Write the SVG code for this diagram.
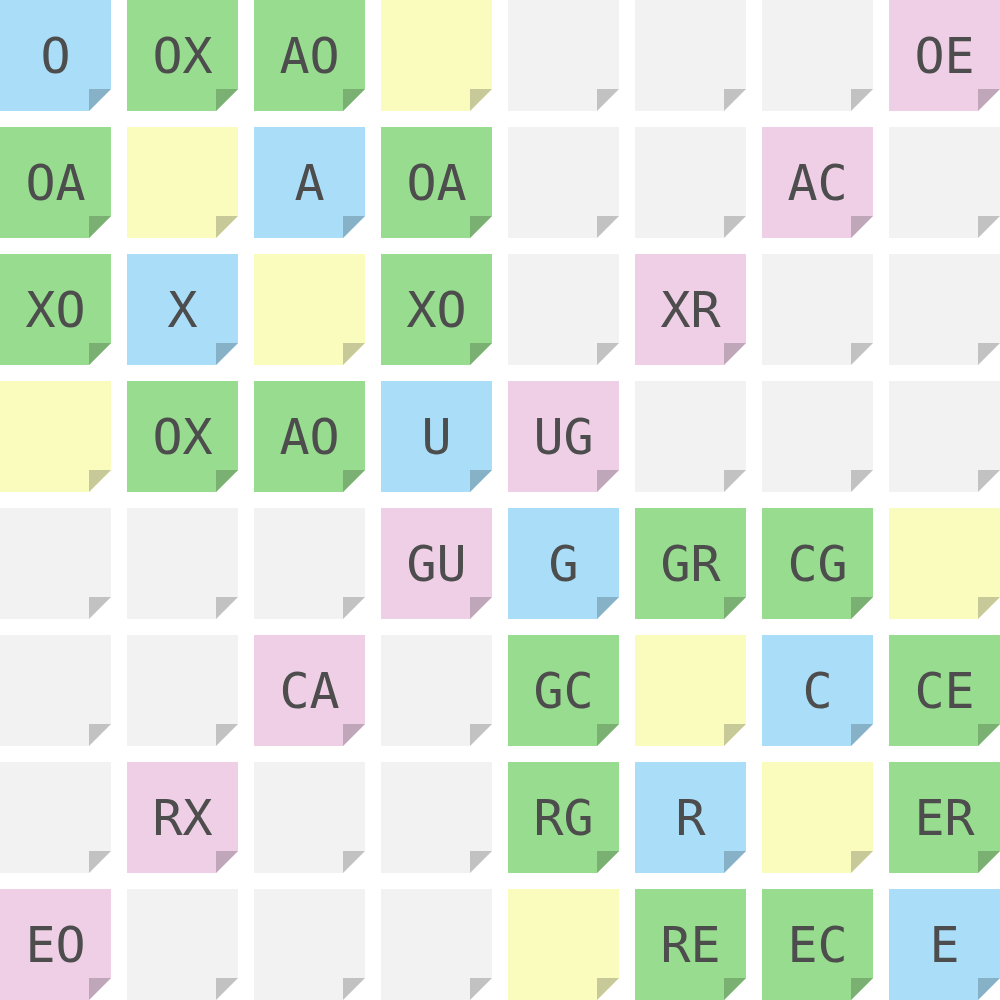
<svg xmlns="http://www.w3.org/2000/svg" width="1000" height="1000" viewBox="0 0 1000 1000">
<style>
.body{}
.b .body{fill:#a9ddf8}.b .fold{fill:#87b1c6}
.g .body{fill:#98dc8f}.g .fold{fill:#7ab072}
.y .body{fill:#fafcbe}.y .fold{fill:#c8c998}
.p .body{fill:#efcfe6}.p .fold{fill:#bfa6b8}
.n .body{fill:#f2f2f2}.n .fold{fill:#c2c2c2}
text{font-family:"DejaVu Sans Mono","Liberation Mono",monospace;font-size:50px;fill:#4d4d4d;text-anchor:middle}
</style>
<rect width="1000" height="1000" fill="#ffffff"/>
<g id="nodes">
<g id="r0c0" class="b" transform="translate(0,0)"><path class="body" d="M0,0H111V89L89,111H0Z"/><path class="fold" d="M89,89H111L89,111Z"/><text x="55.5" y="73">O</text></g>
<g id="r0c1" class="g" transform="translate(127,0)"><path class="body" d="M0,0H111V89L89,111H0Z"/><path class="fold" d="M89,89H111L89,111Z"/><text x="55.5" y="73">OX</text></g>
<g id="r0c2" class="g" transform="translate(254,0)"><path class="body" d="M0,0H111V89L89,111H0Z"/><path class="fold" d="M89,89H111L89,111Z"/><text x="55.5" y="73">AO</text></g>
<g id="r0c3" class="y" transform="translate(381,0)"><path class="body" d="M0,0H111V89L89,111H0Z"/><path class="fold" d="M89,89H111L89,111Z"/></g>
<g id="r0c4" class="n" transform="translate(508,0)"><path class="body" d="M0,0H111V89L89,111H0Z"/><path class="fold" d="M89,89H111L89,111Z"/></g>
<g id="r0c5" class="n" transform="translate(635,0)"><path class="body" d="M0,0H111V89L89,111H0Z"/><path class="fold" d="M89,89H111L89,111Z"/></g>
<g id="r0c6" class="n" transform="translate(762,0)"><path class="body" d="M0,0H111V89L89,111H0Z"/><path class="fold" d="M89,89H111L89,111Z"/></g>
<g id="r0c7" class="p" transform="translate(889,0)"><path class="body" d="M0,0H111V89L89,111H0Z"/><path class="fold" d="M89,89H111L89,111Z"/><text x="55.5" y="73">OE</text></g>

<g id="r1c0" class="g" transform="translate(0,127)"><path class="body" d="M0,0H111V89L89,111H0Z"/><path class="fold" d="M89,89H111L89,111Z"/><text x="55.5" y="73">OA</text></g>
<g id="r1c1" class="y" transform="translate(127,127)"><path class="body" d="M0,0H111V89L89,111H0Z"/><path class="fold" d="M89,89H111L89,111Z"/></g>
<g id="r1c2" class="b" transform="translate(254,127)"><path class="body" d="M0,0H111V89L89,111H0Z"/><path class="fold" d="M89,89H111L89,111Z"/><text x="55.5" y="73">A</text></g>
<g id="r1c3" class="g" transform="translate(381,127)"><path class="body" d="M0,0H111V89L89,111H0Z"/><path class="fold" d="M89,89H111L89,111Z"/><text x="55.5" y="73">OA</text></g>
<g id="r1c4" class="n" transform="translate(508,127)"><path class="body" d="M0,0H111V89L89,111H0Z"/><path class="fold" d="M89,89H111L89,111Z"/></g>
<g id="r1c5" class="n" transform="translate(635,127)"><path class="body" d="M0,0H111V89L89,111H0Z"/><path class="fold" d="M89,89H111L89,111Z"/></g>
<g id="r1c6" class="p" transform="translate(762,127)"><path class="body" d="M0,0H111V89L89,111H0Z"/><path class="fold" d="M89,89H111L89,111Z"/><text x="55.5" y="73">AC</text></g>
<g id="r1c7" class="n" transform="translate(889,127)"><path class="body" d="M0,0H111V89L89,111H0Z"/><path class="fold" d="M89,89H111L89,111Z"/></g>

<g id="r2c0" class="g" transform="translate(0,254)"><path class="body" d="M0,0H111V89L89,111H0Z"/><path class="fold" d="M89,89H111L89,111Z"/><text x="55.5" y="73">XO</text></g>
<g id="r2c1" class="b" transform="translate(127,254)"><path class="body" d="M0,0H111V89L89,111H0Z"/><path class="fold" d="M89,89H111L89,111Z"/><text x="55.5" y="73">X</text></g>
<g id="r2c2" class="y" transform="translate(254,254)"><path class="body" d="M0,0H111V89L89,111H0Z"/><path class="fold" d="M89,89H111L89,111Z"/></g>
<g id="r2c3" class="g" transform="translate(381,254)"><path class="body" d="M0,0H111V89L89,111H0Z"/><path class="fold" d="M89,89H111L89,111Z"/><text x="55.5" y="73">XO</text></g>
<g id="r2c4" class="n" transform="translate(508,254)"><path class="body" d="M0,0H111V89L89,111H0Z"/><path class="fold" d="M89,89H111L89,111Z"/></g>
<g id="r2c5" class="p" transform="translate(635,254)"><path class="body" d="M0,0H111V89L89,111H0Z"/><path class="fold" d="M89,89H111L89,111Z"/><text x="55.5" y="73">XR</text></g>
<g id="r2c6" class="n" transform="translate(762,254)"><path class="body" d="M0,0H111V89L89,111H0Z"/><path class="fold" d="M89,89H111L89,111Z"/></g>
<g id="r2c7" class="n" transform="translate(889,254)"><path class="body" d="M0,0H111V89L89,111H0Z"/><path class="fold" d="M89,89H111L89,111Z"/></g>

<g id="r3c0" class="y" transform="translate(0,381)"><path class="body" d="M0,0H111V89L89,111H0Z"/><path class="fold" d="M89,89H111L89,111Z"/></g>
<g id="r3c1" class="g" transform="translate(127,381)"><path class="body" d="M0,0H111V89L89,111H0Z"/><path class="fold" d="M89,89H111L89,111Z"/><text x="55.5" y="73">OX</text></g>
<g id="r3c2" class="g" transform="translate(254,381)"><path class="body" d="M0,0H111V89L89,111H0Z"/><path class="fold" d="M89,89H111L89,111Z"/><text x="55.5" y="73">AO</text></g>
<g id="r3c3" class="b" transform="translate(381,381)"><path class="body" d="M0,0H111V89L89,111H0Z"/><path class="fold" d="M89,89H111L89,111Z"/><text x="55.5" y="73">U</text></g>
<g id="r3c4" class="p" transform="translate(508,381)"><path class="body" d="M0,0H111V89L89,111H0Z"/><path class="fold" d="M89,89H111L89,111Z"/><text x="55.5" y="73">UG</text></g>
<g id="r3c5" class="n" transform="translate(635,381)"><path class="body" d="M0,0H111V89L89,111H0Z"/><path class="fold" d="M89,89H111L89,111Z"/></g>
<g id="r3c6" class="n" transform="translate(762,381)"><path class="body" d="M0,0H111V89L89,111H0Z"/><path class="fold" d="M89,89H111L89,111Z"/></g>
<g id="r3c7" class="n" transform="translate(889,381)"><path class="body" d="M0,0H111V89L89,111H0Z"/><path class="fold" d="M89,89H111L89,111Z"/></g>

<g id="r4c0" class="n" transform="translate(0,508)"><path class="body" d="M0,0H111V89L89,111H0Z"/><path class="fold" d="M89,89H111L89,111Z"/></g>
<g id="r4c1" class="n" transform="translate(127,508)"><path class="body" d="M0,0H111V89L89,111H0Z"/><path class="fold" d="M89,89H111L89,111Z"/></g>
<g id="r4c2" class="n" transform="translate(254,508)"><path class="body" d="M0,0H111V89L89,111H0Z"/><path class="fold" d="M89,89H111L89,111Z"/></g>
<g id="r4c3" class="p" transform="translate(381,508)"><path class="body" d="M0,0H111V89L89,111H0Z"/><path class="fold" d="M89,89H111L89,111Z"/><text x="55.5" y="73">GU</text></g>
<g id="r4c4" class="b" transform="translate(508,508)"><path class="body" d="M0,0H111V89L89,111H0Z"/><path class="fold" d="M89,89H111L89,111Z"/><text x="55.5" y="73">G</text></g>
<g id="r4c5" class="g" transform="translate(635,508)"><path class="body" d="M0,0H111V89L89,111H0Z"/><path class="fold" d="M89,89H111L89,111Z"/><text x="55.5" y="73">GR</text></g>
<g id="r4c6" class="g" transform="translate(762,508)"><path class="body" d="M0,0H111V89L89,111H0Z"/><path class="fold" d="M89,89H111L89,111Z"/><text x="55.5" y="73">CG</text></g>
<g id="r4c7" class="y" transform="translate(889,508)"><path class="body" d="M0,0H111V89L89,111H0Z"/><path class="fold" d="M89,89H111L89,111Z"/></g>

<g id="r5c0" class="n" transform="translate(0,635)"><path class="body" d="M0,0H111V89L89,111H0Z"/><path class="fold" d="M89,89H111L89,111Z"/></g>
<g id="r5c1" class="n" transform="translate(127,635)"><path class="body" d="M0,0H111V89L89,111H0Z"/><path class="fold" d="M89,89H111L89,111Z"/></g>
<g id="r5c2" class="p" transform="translate(254,635)"><path class="body" d="M0,0H111V89L89,111H0Z"/><path class="fold" d="M89,89H111L89,111Z"/><text x="55.5" y="73">CA</text></g>
<g id="r5c3" class="n" transform="translate(381,635)"><path class="body" d="M0,0H111V89L89,111H0Z"/><path class="fold" d="M89,89H111L89,111Z"/></g>
<g id="r5c4" class="g" transform="translate(508,635)"><path class="body" d="M0,0H111V89L89,111H0Z"/><path class="fold" d="M89,89H111L89,111Z"/><text x="55.5" y="73">GC</text></g>
<g id="r5c5" class="y" transform="translate(635,635)"><path class="body" d="M0,0H111V89L89,111H0Z"/><path class="fold" d="M89,89H111L89,111Z"/></g>
<g id="r5c6" class="b" transform="translate(762,635)"><path class="body" d="M0,0H111V89L89,111H0Z"/><path class="fold" d="M89,89H111L89,111Z"/><text x="55.5" y="73">C</text></g>
<g id="r5c7" class="g" transform="translate(889,635)"><path class="body" d="M0,0H111V89L89,111H0Z"/><path class="fold" d="M89,89H111L89,111Z"/><text x="55.5" y="73">CE</text></g>

<g id="r6c0" class="n" transform="translate(0,762)"><path class="body" d="M0,0H111V89L89,111H0Z"/><path class="fold" d="M89,89H111L89,111Z"/></g>
<g id="r6c1" class="p" transform="translate(127,762)"><path class="body" d="M0,0H111V89L89,111H0Z"/><path class="fold" d="M89,89H111L89,111Z"/><text x="55.5" y="73">RX</text></g>
<g id="r6c2" class="n" transform="translate(254,762)"><path class="body" d="M0,0H111V89L89,111H0Z"/><path class="fold" d="M89,89H111L89,111Z"/></g>
<g id="r6c3" class="n" transform="translate(381,762)"><path class="body" d="M0,0H111V89L89,111H0Z"/><path class="fold" d="M89,89H111L89,111Z"/></g>
<g id="r6c4" class="g" transform="translate(508,762)"><path class="body" d="M0,0H111V89L89,111H0Z"/><path class="fold" d="M89,89H111L89,111Z"/><text x="55.5" y="73">RG</text></g>
<g id="r6c5" class="b" transform="translate(635,762)"><path class="body" d="M0,0H111V89L89,111H0Z"/><path class="fold" d="M89,89H111L89,111Z"/><text x="55.5" y="73">R</text></g>
<g id="r6c6" class="y" transform="translate(762,762)"><path class="body" d="M0,0H111V89L89,111H0Z"/><path class="fold" d="M89,89H111L89,111Z"/></g>
<g id="r6c7" class="g" transform="translate(889,762)"><path class="body" d="M0,0H111V89L89,111H0Z"/><path class="fold" d="M89,89H111L89,111Z"/><text x="55.5" y="73">ER</text></g>

<g id="r7c0" class="p" transform="translate(0,889)"><path class="body" d="M0,0H111V89L89,111H0Z"/><path class="fold" d="M89,89H111L89,111Z"/><text x="55.5" y="73">EO</text></g>
<g id="r7c1" class="n" transform="translate(127,889)"><path class="body" d="M0,0H111V89L89,111H0Z"/><path class="fold" d="M89,89H111L89,111Z"/></g>
<g id="r7c2" class="n" transform="translate(254,889)"><path class="body" d="M0,0H111V89L89,111H0Z"/><path class="fold" d="M89,89H111L89,111Z"/></g>
<g id="r7c3" class="n" transform="translate(381,889)"><path class="body" d="M0,0H111V89L89,111H0Z"/><path class="fold" d="M89,89H111L89,111Z"/></g>
<g id="r7c4" class="y" transform="translate(508,889)"><path class="body" d="M0,0H111V89L89,111H0Z"/><path class="fold" d="M89,89H111L89,111Z"/></g>
<g id="r7c5" class="g" transform="translate(635,889)"><path class="body" d="M0,0H111V89L89,111H0Z"/><path class="fold" d="M89,89H111L89,111Z"/><text x="55.5" y="73">RE</text></g>
<g id="r7c6" class="g" transform="translate(762,889)"><path class="body" d="M0,0H111V89L89,111H0Z"/><path class="fold" d="M89,89H111L89,111Z"/><text x="55.5" y="73">EC</text></g>
<g id="r7c7" class="b" transform="translate(889,889)"><path class="body" d="M0,0H111V89L89,111H0Z"/><path class="fold" d="M89,89H111L89,111Z"/><text x="55.5" y="73">E</text></g>
</g>
<g id="connectors"/>
</svg>
